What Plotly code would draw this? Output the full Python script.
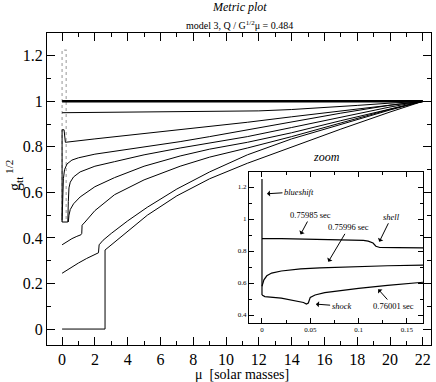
import plotly.graph_objects as go

# ---------------- data ----------------
# main plot: g_tt^(1/2) vs mu, several times
mu_flat = [0, 22]
g_flat = [1.0, 1.0]

mu_c1 = [0, 2, 5, 8, 10, 12, 14, 16, 18, 20, 22]
g_c1 = [0.95, 0.951, 0.952, 0.953, 0.955, 0.958, 0.964, 0.972, 0.982, 0.992, 1.0]

mu_c2 = [0, 0, 0.12, 0.2, 2, 5, 8, 11.3, 14, 17, 20, 22]
g_c2 = [0.47, 0.875, 0.875, 0.82, 0.835, 0.858, 0.882, 0.908, 0.932, 0.958, 0.985, 1.0]

mu_c3 = [0, 0.03, 0.08, 0.15, 0.3, 0.6, 1.0, 2.0, 3.2, 5.0, 7.2, 9.0, 11.3, 14, 17, 20, 22]
g_c3 = [0.48, 0.6, 0.66, 0.7, 0.725, 0.742, 0.752, 0.768, 0.78, 0.8, 0.823, 0.845, 0.875, 0.91, 0.948, 0.983, 1.0]

mu_c4 = [0, 0.35, 0.38, 0.42, 0.5, 0.7, 1.1, 2.0, 3.2, 5.0, 7.2, 9.0, 11.3, 14, 17, 20, 22]
g_c4 = [0.47, 0.47, 0.56, 0.62, 0.645, 0.668, 0.69, 0.715, 0.735, 0.765, 0.795, 0.818, 0.845, 0.885, 0.93, 0.975, 1.0]

mu_c5 = [0.38, 0.42, 0.5, 0.7, 1.1, 2.0, 3.2, 5.0, 7.2, 9.0, 11.3, 14, 17, 20, 22]
g_c5 = [0.47, 0.5, 0.525, 0.55, 0.58, 0.625, 0.665, 0.715, 0.76, 0.79, 0.82, 0.862, 0.915, 0.968, 1.0]

mu_c6 = [0, 0.3, 0.6, 0.9, 1.15, 1.2, 1.22, 1.4, 2.0, 3.2, 5.0, 7.2, 9.0, 11.3, 14, 17, 20, 22]
g_c6 = [0.37, 0.385, 0.397, 0.407, 0.414, 0.42, 0.456, 0.47, 0.52, 0.59, 0.655, 0.715, 0.755, 0.795, 0.845, 0.905, 0.965, 1.0]

mu_c7 = [0, 0.5, 1.0, 1.5, 2.1, 2.22, 2.26, 2.5, 3.0, 4.0, 5.2, 7.0, 9.0, 11.3, 14, 17, 20, 22]
g_c7 = [0.245, 0.268, 0.29, 0.31, 0.328, 0.335, 0.37, 0.39, 0.42, 0.475, 0.535, 0.615, 0.69, 0.765, 0.835, 0.9, 0.962, 1.0]

mu_c8 = [0, 2.62, 2.62, 3.0, 4.0, 5.2, 7.0, 9.0, 11.3, 14, 17, 20, 22]
g_c8 = [0.0, 0.0, 0.347, 0.37, 0.43, 0.5, 0.585, 0.66, 0.728, 0.8, 0.878, 0.953, 1.0]

mu_dot = [0, 0, 0.25, 0.25]
g_dot = [0.47, 1.225, 1.225, 0.47]

# inset (zoom)
zx_a = [0, 0, 0, 0.02, 0.05, 0.08, 0.105, 0.11, 0.115, 0.118, 0.122, 0.14, 0.167]
zy_a = [0.525, 1.25, 0.878, 0.877, 0.874, 0.87, 0.866, 0.862, 0.85, 0.83, 0.822, 0.821, 0.82]

zx_b = [0, 0.002, 0.005, 0.01, 0.02, 0.04, 0.06, 0.08, 0.1, 0.13, 0.167]
zy_b = [0.58, 0.62, 0.645, 0.662, 0.675, 0.688, 0.695, 0.7, 0.704, 0.708, 0.712]

zx_c = [0, 0.003, 0.02, 0.035, 0.043, 0.046, 0.048, 0.05, 0.055, 0.065, 0.08, 0.1, 0.13, 0.167]
zy_c = [0.525, 0.515, 0.505, 0.49, 0.478, 0.468, 0.475, 0.51, 0.525, 0.54, 0.553, 0.566, 0.585, 0.605]

x_ticks = list(range(0, 23, 2))
y_ticks = [0, 0.2, 0.4, 0.6, 0.8, 1.0, 1.2]
zx_ticks = [0, 0.05, 0.1, 0.15]
zy_ticks = [0.4, 0.6, 0.8, 1.0, 1.2]

FONT = "Liberation Serif"

fig = go.Figure()


def line(x, y, ax="x", ay="y", width=1.0, color="black", dash="solid"):
    fig.add_trace(go.Scatter(x=x, y=y, mode="lines", xaxis=ax, yaxis=ay,
                             line=dict(color=color, width=width, dash=dash),
                             showlegend=False, hoverinfo="skip"))


line(mu_dot, g_dot, color="#a8a8a8", width=1.2, dash="dot")
line(mu_flat, g_flat, width=2.5)
for mx, gy in [(mu_c1, g_c1), (mu_c2, g_c2), (mu_c3, g_c3), (mu_c4, g_c4),
               (mu_c5, g_c5), (mu_c6, g_c6), (mu_c7, g_c7), (mu_c8, g_c8)]:
    line(mx, gy)

for zx, zy in [(zx_a, zy_a), (zx_b, zy_b), (zx_c, zy_c)]:
    line(zx, zy, ax="x2", ay="y2", width=1.2)

axis_common = dict(showgrid=False, zeroline=False, showline=True, linecolor="black",
                   linewidth=1, mirror="ticks", ticks="inside", tickcolor="black")

fig.update_layout(
    width=436, height=382,
    margin=dict(l=47, r=5, t=33, b=37),
    paper_bgcolor="white", plot_bgcolor="white",
    font=dict(family=FONT, color="black"),
    xaxis=dict(range=[-0.92, 22.5], tickvals=x_ticks, ticklen=8, tickwidth=1,
               tickfont=dict(size=16, family=FONT), ticklabelstandoff=0,
               minor=dict(dtick=1, tick0=0, ticks="inside", ticklen=4, tickcolor="black"),
               **axis_common),
    yaxis=dict(range=[-0.07, 1.3], tickvals=y_ticks, ticklen=8, tickwidth=1,
               tickfont=dict(size=16, family=FONT),
               minor=dict(dtick=0.1, tick0=0, ticks="inside", ticklen=4, tickcolor="black"),
               **axis_common),
    xaxis2=dict(domain=[0.526, 0.979], anchor="y2", range=[-0.01346, 0.1667],
                tickvals=zx_ticks, ticktext=["0", "0.05", "0.1", "0.15"], ticklen=5,
                tickfont=dict(size=7, family=FONT),
                minor=dict(dtick=0.025, tick0=0, ticks="inside", ticklen=3, tickcolor="black"),
                **axis_common),
    yaxis2=dict(domain=[0.0705, 0.5545], anchor="x2", range=[0.35, 1.294],
                tickvals=zy_ticks, ticktext=["0.4", "0.6", "0.8", "1", "1.2"], ticklen=5,
                tickfont=dict(size=7, family=FONT),
                minor=dict(dtick=0.1, tick0=0, ticks="inside", ticklen=3, tickcolor="black"),
                **axis_common),
)

ann = []
# titles and axis labels
common = dict(xref="paper", yref="paper", showarrow=False, xanchor="center", yanchor="middle")
ann.append(dict(text="<i>Metric plot</i>", x=0.5, y=1.083, font=dict(size=12, family=FONT), **common))
ann.append(dict(text="model 3, Q / G<sup>1/2</sup>\u03bc = 0.484", x=0.5, y=1.026,
                font=dict(size=10, family=FONT), **common))
ann.append(dict(text="\u03bc  [solar masses]", x=0.508, y=-0.093,
                font=dict(size=14, family=FONT), **common))
ann.append(dict(text="g<sub>tt</sub><sup> 1/2</sup>", x=-0.086, y=0.545, textangle=-90,
                font=dict(size=16, family=FONT), **common))
ann.append(dict(text="<i>zoom</i>", x=0.729, y=0.6026, font=dict(size=12, family=FONT), **common))

# inset labels with arrows: (text, label x, label y, arrow tip x, arrow tip y)
labels = [("<i>blueshift</i>", 0.0383, 1.17, 0.0052, 1.158),
          ("0.75985 sec", 0.0507, 1.025, 0.040, 0.904),
          ("0.75996 sec", 0.0899, 0.948, 0.0687, 0.733),
          ("<i>shell</i>", 0.1342, 1.014, 0.1215, 0.858),
          ("<i>shock</i>", 0.0825, 0.456, 0.0559, 0.468),
          ("0.76001 sec", 0.1359, 0.456, 0.1204, 0.561)]
for t, x, y, tx, ty in labels:
    ann.append(dict(text=t, x=tx, y=ty, ax=x, ay=y, xref="x2", yref="y2",
                    axref="x2", ayref="y2", showarrow=True, arrowhead=1,
                    arrowsize=1, arrowwidth=1, arrowcolor="black",
                    font=dict(size=8.5, family=FONT)))

fig.update_layout(annotations=ann)
fig.write_html("out.html", config={"displayModeBar": False},
               post_script="document.body.style.margin='0';document.body.style.overflow='hidden';")
